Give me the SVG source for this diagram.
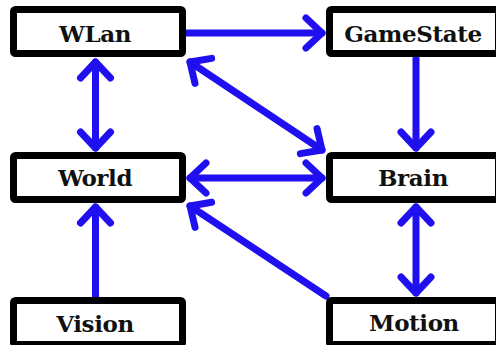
<svg xmlns="http://www.w3.org/2000/svg" width="496" height="345" viewBox="0 0 496 345">
<style>
.box rect{fill:#fff;stroke:#000;stroke-width:7;}
.lbl{font-family:"DejaVu Serif",serif;font-weight:bold;font-size:23px;letter-spacing:-0.4px;text-anchor:middle;fill:#111;}
.conn line{stroke:#2010f0;stroke-width:7;stroke-linecap:round;fill:none;}
</style>
<defs>
<marker id="ah" markerUnits="userSpaceOnUse" markerWidth="50" markerHeight="50" viewBox="-25 -25 50 50" refX="0" refY="0" orient="auto-start-reverse" overflow="visible">
<path d="M-16,-15 L0,0 L-16,15" fill="none" stroke="#2010f0" stroke-width="7" stroke-linecap="round" stroke-linejoin="round"/>
</marker>
</defs>
<rect width="496" height="345" fill="#fff"/>
<g class="conn">
<line x1="187" y1="33" x2="322" y2="33" marker-end="url(#ah)"/>
<line x1="95.5" y1="62" x2="95.5" y2="148" marker-start="url(#ah)" marker-end="url(#ah)"/>
<line x1="190" y1="62" x2="322" y2="150" marker-start="url(#ah)" marker-end="url(#ah)"/>
<line x1="190" y1="178" x2="322" y2="178" marker-start="url(#ah)" marker-end="url(#ah)"/>
<line x1="416" y1="58" x2="416" y2="148" marker-end="url(#ah)"/>
<line x1="416" y1="207" x2="416" y2="293" marker-start="url(#ah)" marker-end="url(#ah)"/>
<line x1="95.5" y1="297" x2="95.5" y2="207" marker-end="url(#ah)"/>
<line x1="326" y1="296" x2="190" y2="206" marker-end="url(#ah)"/>
</g>
<g id="wlan" class="box"><rect x="13.5" y="9.5" width="169" height="44" rx="2"/><text class="lbl" x="95" y="42">WLan</text></g>
<g id="gamestate" class="box"><rect x="329.5" y="9.5" width="169" height="44" rx="2"/><text class="lbl" x="413" y="42">GameState</text></g>
<g id="world" class="box"><rect x="13.5" y="155.5" width="169" height="44" rx="2"/><text class="lbl" x="95" y="186">World</text></g>
<g id="brain" class="box"><rect x="329.5" y="155.5" width="169" height="44" rx="2"/><text class="lbl" x="413" y="186">Brain</text></g>
<g id="vision" class="box"><rect x="13.5" y="300.5" width="169" height="44" rx="2"/><text class="lbl" x="95" y="332">Vision</text></g>
<g id="motion" class="box"><rect x="329.5" y="300.5" width="169" height="44" rx="2"/><text class="lbl" x="414" y="331">Motion</text></g>
</svg>
